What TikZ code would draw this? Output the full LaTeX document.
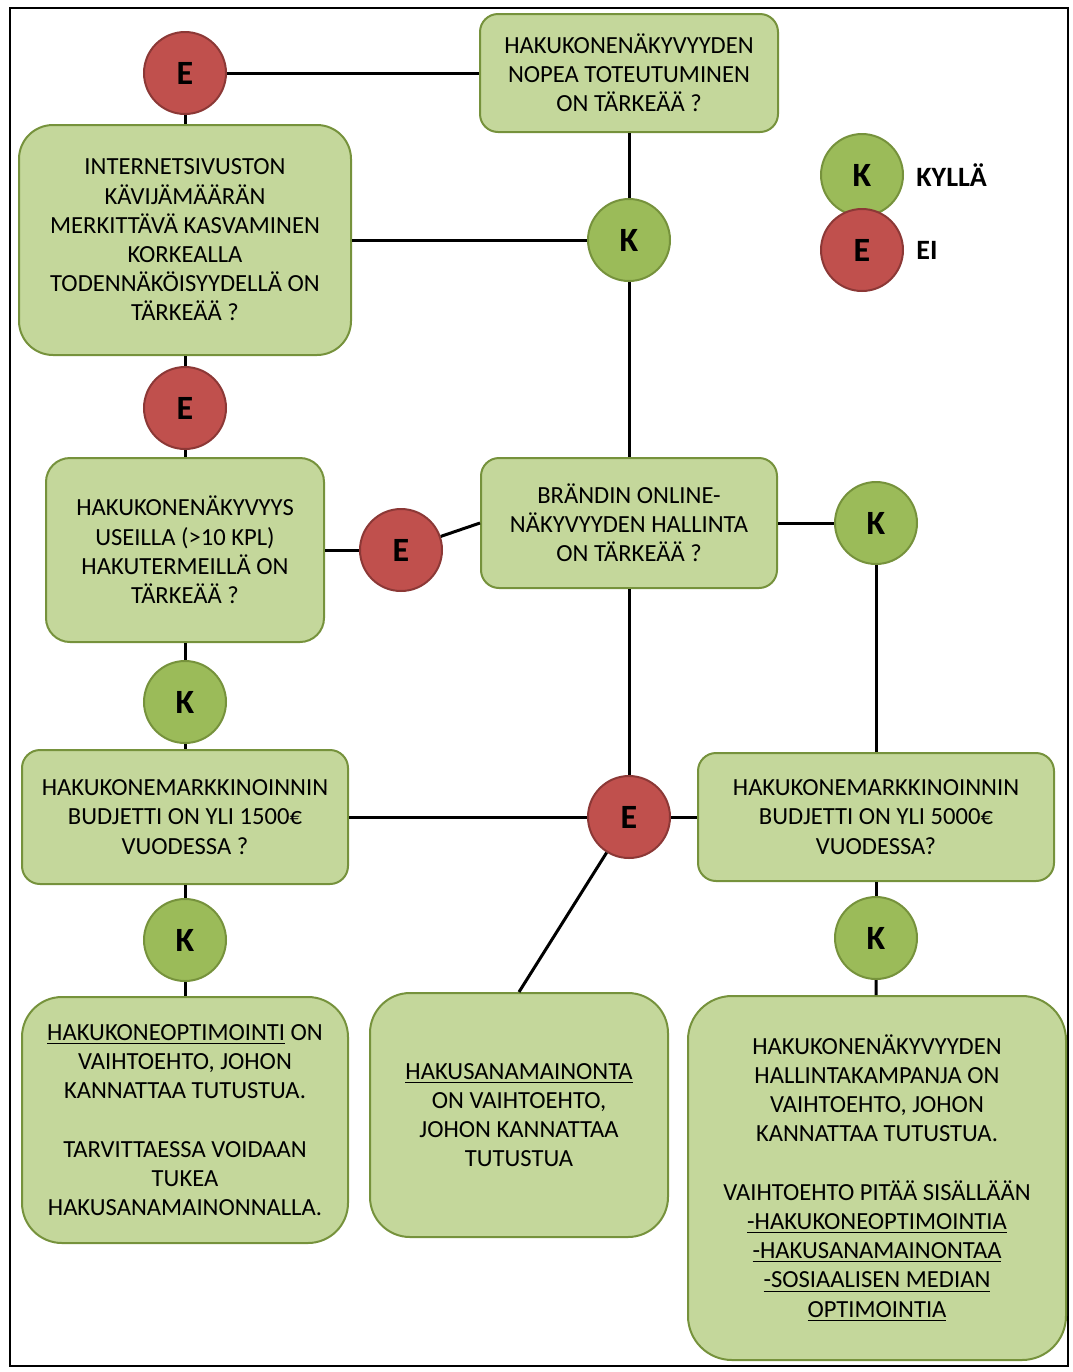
\documentclass[tikz,border=0pt]{standalone}
\usepackage{fontspec}
\setmainfont{Carlito}
\usetikzlibrary{positioning}
\definecolor{boxfill}{RGB}{196,215,155}
\definecolor{boxline}{RGB}{118,146,60}
\definecolor{yesfill}{RGB}{155,187,89}
\definecolor{nofill}{RGB}{192,80,77}
\definecolor{noline}{RGB}{140,56,54}

\begin{document}
\begin{tikzpicture}[x=0.5pt,y=-0.5pt,
  font=\fontsize{12.3}{14.6}\selectfont,
  q/.style={draw=boxline,line width=1pt,fill=boxfill,rounded corners=9pt,align=center,inner sep=2pt},
  yes/.style={circle,draw=boxline,line width=1pt,fill=yesfill,minimum size=41pt,inner sep=0pt,font=\fontsize{17}{17}\selectfont\bfseries},
  no/.style={yes,draw=noline,fill=nofill},
  key/.style={font=\fontsize{14}{14}\selectfont\bfseries,inner sep=0pt},
  ln/.style={line width=1.5pt}]
\useasboundingbox (0,0) rectangle (1072,1372);
\draw[line width=0.6pt] (10,8) rectangle (1068,1366);
% questions and yes/no circles
\node[q,minimum width=149pt,minimum height=59pt] (fast) at (629,73) {HAKUKONENÄKYVYYDEN\\NOPEA TOTEUTUMINEN\\ON TÄRKEÄÄ ?};
\node[no] (e1) at (185,73) {E};
\node[q,rounded corners=17pt,minimum width=166pt,minimum height=115pt] (traffic) at (185,240) {INTERNETSIVUSTON\\KÄVIJÄMÄÄRÄN\\MERKITTÄVÄ KASVAMINEN\\KORKEALLA\\TODENNÄKÖISYYDELLÄ ON\\TÄRKEÄÄ ?};
\node[yes] (k1) at (629,240) {K};
\node[no] (e2) at (185,408) {E};
\node[q,rounded corners=12pt,minimum width=139pt,minimum height=92pt] (many) at (185,550) {HAKUKONENÄKYVYYS\\USEILLA (>10 KPL)\\HAKUTERMEILLÄ ON\\TÄRKEÄÄ ?};
\node[no] (e3) at (401,550) {E};
\node[q,minimum width=148pt,minimum height=65pt] (brand) at (629,523) {BRÄNDIN ONLINE-\\NÄKYVYYDEN HALLINTA\\ON TÄRKEÄÄ ?};
\node[yes] (k2) at (876,523) {K};
\node[yes] (k3) at (185,702) {K};
\node[q,minimum width=163pt,minimum height=67pt] (b1500) at (185,817) {HAKUKONEMARKKINOINNIN\\BUDJETTI ON YLI 1500€\\VUODESSA ?};
\node[no] (e4) at (629,817) {E};
\node[q,minimum width=178pt,minimum height=64pt] (b5000) at (876,817) {HAKUKONEMARKKINOINNIN\\BUDJETTI ON YLI 5000€\\VUODESSA?};
\node[yes] (k4) at (185,940) {K};
\node[yes] (k5) at (876,938) {K};
% answers
\node[q,rounded corners=20pt,minimum width=163pt,minimum height=123pt] (seo) at (185,1120) {\underline{HAKUKONEOPTIMOINTI} ON\\VAIHTOEHTO, JOHON\\KANNATTAA TUTUSTUA.\\[14.6pt]TARVITTAESSA VOIDAAN\\TUKEA\\HAKUSANAMAINONNALLA.};
\node[q,rounded corners=20pt,minimum width=149pt,minimum height=122pt] (sem) at (519,1115) {\underline{HAKUSANAMAINONTA}\\ON VAIHTOEHTO,\\JOHON KANNATTAA\\TUTUSTUA};
\node[q,rounded corners=22pt,minimum width=189pt,minimum height=182pt] (campaign) at (877,1178) {HAKUKONENÄKYVYYDEN\\HALLINTAKAMPANJA ON\\VAIHTOEHTO, JOHON\\KANNATTAA TUTUSTUA.\\[14.6pt]VAIHTOEHTO PITÄÄ SISÄLLÄÄN\\\underline{-HAKUKONEOPTIMOINTIA}\\\underline{-HAKUSANAMAINONTAA}\\\underline{-SOSIAALISEN MEDIAN}\\\underline{OPTIMOINTIA}};
% legend
\node[yes] (keyk) at (862,175) {K};
\node[no] (keye) at (862,250) {E};
\node[key,right=6pt of keyk] (kylla) {KYLLÄ};
\node[key,right=6pt of keye] (ei) {EI};
% connectors
\draw[ln] (e1) -- (fast);
\draw[ln] (e1) -- (traffic);
\draw[ln] (traffic) -- (k1);
\draw[ln] (fast) -- (k1);
\draw[ln] (k1) -- (brand);
\draw[ln] (traffic) -- (e2);
\draw[ln] (e2) -- (many);
\draw[ln] (many) -- (e3);
\draw[ln] (e3) -- (brand.west);
\draw[ln] (brand) -- (k2);
\draw[ln] (k2) -- (b5000);
\draw[ln] (brand) -- (e4);
\draw[ln] (many) -- (k3);
\draw[ln] (k3) -- (b1500);
\draw[ln] (b1500) -- (e4);
\draw[ln] (e4) -- (b5000);
\draw[ln] (b1500) -- (k4);
\draw[ln] (k4) -- (seo);
\draw[ln] (e4) -- (sem.north);
\draw[ln] (b5000) -- (k5);
\draw[ln] (k5) -- (campaign);
\end{tikzpicture}
\end{document}
